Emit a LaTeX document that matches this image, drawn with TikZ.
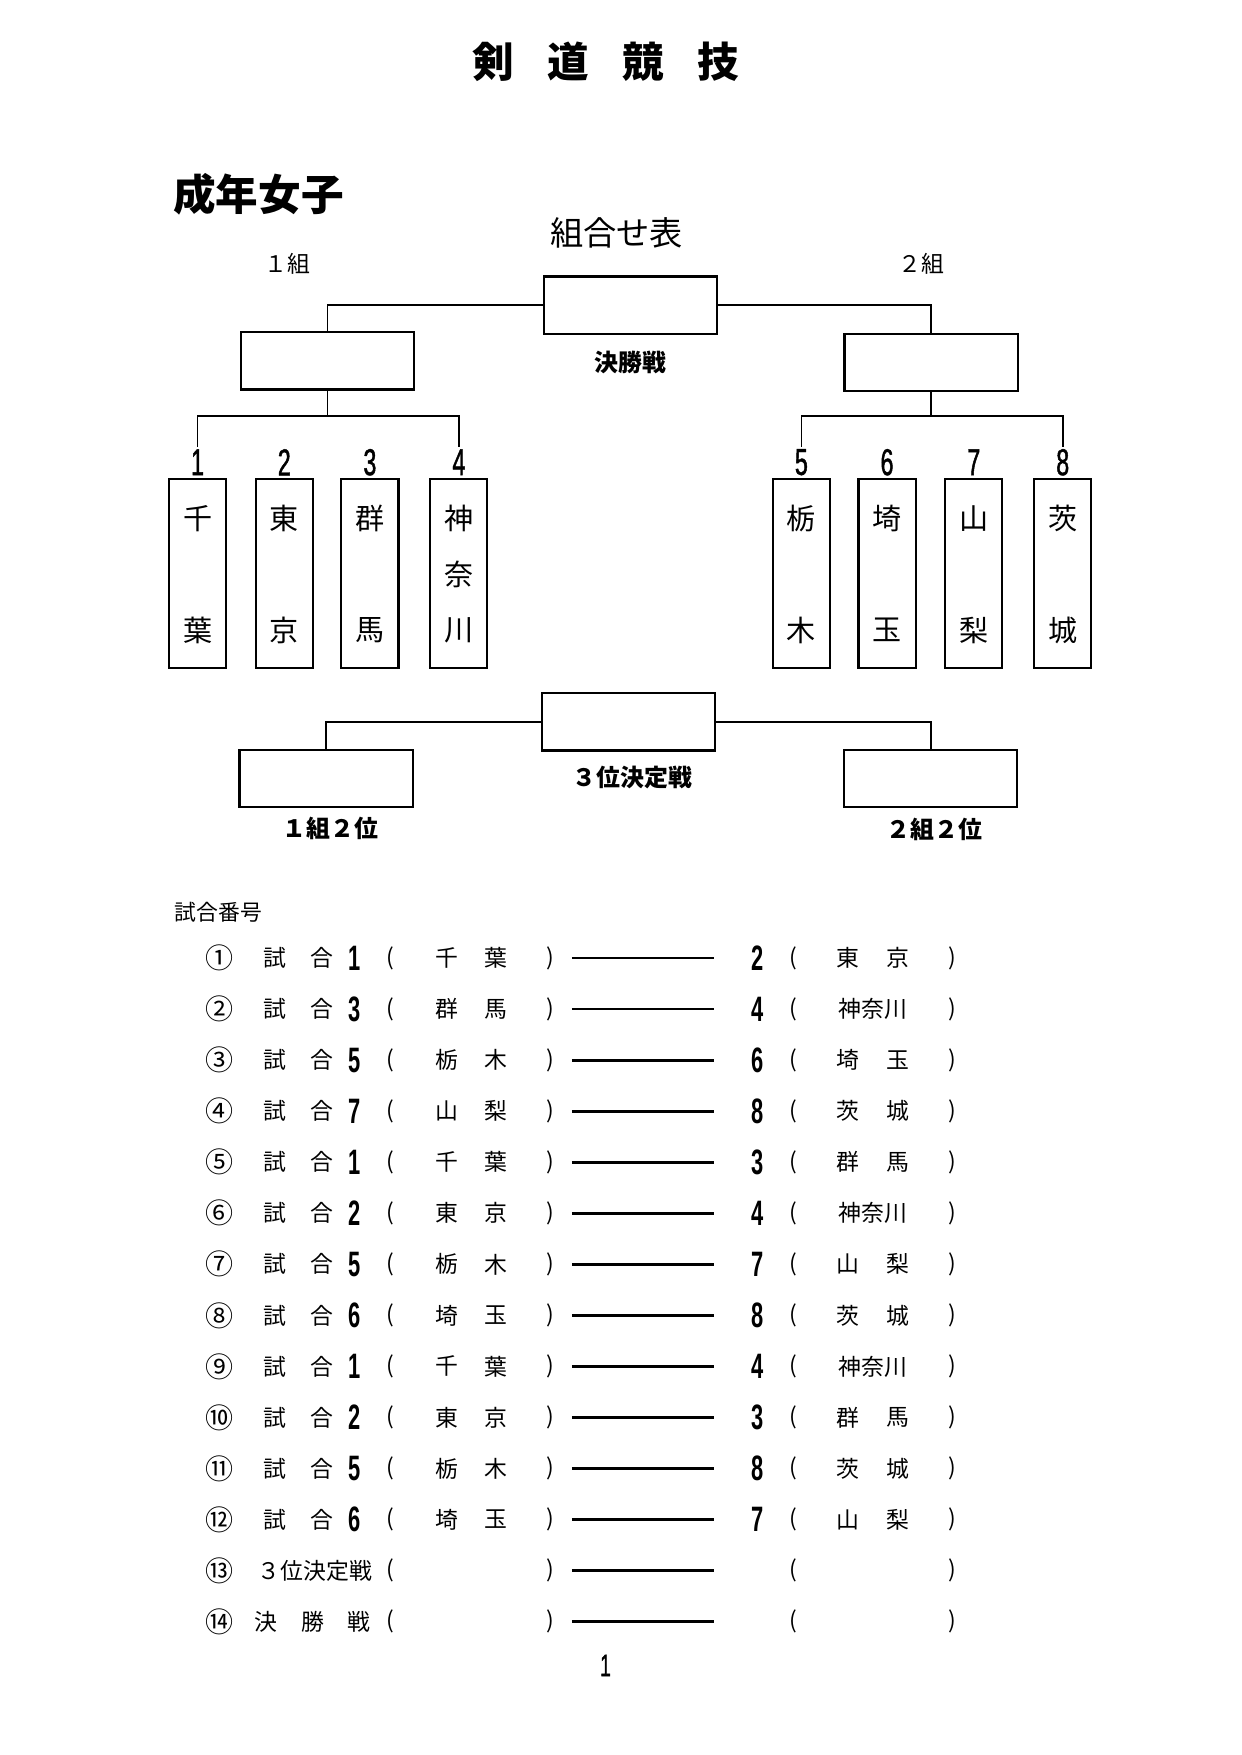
\documentclass[tikz,border=0pt]{standalone}
\usepackage{fontspec}
\setmainfont{Noto Sans CJK JP}
\newfontfamily\narrowfont[FakeStretch=0.62]{Liberation Sans}
\newfontfamily\narrowmed[FakeStretch=0.62,FakeBold=1.2]{Liberation Sans}
\def\u{0.18936mm}
\tikzset{
  bx/.style={draw, line width=1pt, minimum width=155*\u, minimum height=51*\u, inner sep=0pt},
  pbox/.style={draw, line width=1pt, minimum width=51*\u, minimum height=169*\u, inner sep=0pt},
  br/.style={line width=0.8pt},
  rl/.style={line width=1.3pt},
  pch/.style={font=\fontsize{14}{14}\selectfont, inner sep=0pt},
  bnum/.style={font=\narrowmed\fontsize{18}{18}\selectfont, inner sep=1pt},
  blab/.style={font=\bfseries\fontsize{11.5}{11.5}\selectfont, inner sep=0pt},
  glab/.style={font=\fontsize{11}{11}\selectfont, inner sep=0pt},
  rt/.style={font=\fontsize{11}{11}\selectfont, inner sep=0pt},
  rc/.style={font=\fontsize{13.5}{13.5}\selectfont, inner sep=0pt},
  dg/.style={font=\narrowfont\bfseries\fontsize{17}{17}\selectfont, inner sep=0pt},
  ttl/.style={font=\bfseries\fontsize{20}{20}\selectfont, inner sep=0pt},
}
% row: #1 id, #2 y, #3 circled, #4 left digit, #5 #6 left chars, #7 right digit
\newcommand\mrow[7]{%
  \node[rc] (#1c) at (196,#2) {#3};
  \node[rt] (#1s) at (246,#2) {試};
  \node[rt] (#1g) at (288,#2) {合};
  \node[dg] (#1d) at (317,#2) {#4};
  \node[rt] (#1o) at (349,#2) {(};
  \node[rt] (#1a) at (399,#2) {#5};
  \node[rt] (#1b) at (443,#2) {#6};
  \node[rt] (#1e) at (492,#2) {)};
  \coordinate (#1l) at (511,#2);
  \coordinate (#1r) at (638,#2);
  \draw[rl] (#1l) -- (#1r);
  \node[dg] (#1D) at (677,#2) {#7};
  \node[rt] (#1O) at (709,#2) {(};
  \node[rt] (#1E) at (851,#2) {)};
}
\newcommand\rname[4]{%
  \node[rt] (#1A) at (758,#2) {#3};
  \node[rt] (#1B) at (802,#2) {#4};
}
\newcommand\rlong[2]{%
  \node[rt] (#1A) at (780,#2) {神奈川};
}
\newcommand\pref[5]{% #1 id, #2 x, #3 top char, #4 bottom char, #5 number
  \node[pbox] (#1) at (#2,512.5) {};
  \node[pch] (#1t) at (#2,463) {#3};
  \node[pch] (#1b) at (#2,563) {#4};
  \node[bnum] (n#5) at (#2,413) {#5};
}
\begin{document}
\begin{tikzpicture}[x=\u, y=-\u]
\useasboundingbox (0,0) rectangle (1109,1568);

% titles
\node[ttl] (t1) at (441,55) {剣};
\node[ttl] (t2) at (508,55) {道};
\node[ttl] (t3) at (575,55) {競};
\node[ttl] (t4) at (642,55) {技};
\node[font=\bfseries\fontsize{20.5}{20.5}\selectfont, inner sep=0pt] (sub) at (231,174) {成年女子};
\node[font=\fontsize{16}{16}\selectfont, inner sep=0pt] (kumi) at (551,208) {組合せ表};
\node[glab] (g1) at (257,236) {１組};
\node[glab] (g2) at (823,236) {２組};

% final bracket
\node[bx] (final) at (563.5,272.5) {};
\node[bx] (w1) at (292.5,322.5) {};
\node[bx] (w2) at (832,323.5) {};
\node[blab] (kl) at (563,324) {決勝戦};

\pref{p1}{176.5}{千}{葉}{1}
\pref{p2}{254}{東}{京}{2}
\pref{p3}{330.5}{群}{馬}{3}
\node[pbox] (p4) at (410,512.5) {};
\node[pch] (p4t) at (410,463) {神};
\node[pch] (p4m) at (410,513) {奈};
\node[pch] (p4b) at (410,563) {川};
\node[bnum] (n4) at (410,413) {4};
\pref{p5}{716}{栃}{木}{5}
\pref{p6}{792.5}{埼}{玉}{6}
\pref{p7}{870}{山}{梨}{7}
\pref{p8}{949.5}{茨}{城}{8}

\draw[br] (final.west) -| (w1.north);
\draw[br] (final.east) -| (w2.north);
\draw[br] (w1.south) -- ++(0,23) coordinate (j1);
\draw[br] (w2.south) -- ++(0,22) coordinate (j2);
\draw[br] (n1.north) |- (j1) -| (n4.north);
\draw[br] (n5.north) |- (j2) -| (n8.north);

% third place
\node[bx] (t0) at (561.5,645) {};
\node[bx] (tl) at (291.5,695.5) {};
\node[bx] (tr) at (831.5,695.5) {};
\draw[br] (t0.west) -| (tl.north);
\draw[br] (t0.east) -| (tr.north);
\node[blab] (sl) at (565,695) {３位決定戦};
\node[blab] (l1) at (295,740) {１組２位};
\node[blab] (l2) at (835,741) {２組２位};

% match list
\node[font=\fontsize{10.5}{10.5}\selectfont, inner sep=0pt] (bango) at (195,815) {試合番号};

\mrow{ra}{856}{①}{1}{千}{葉}{2}      \rname{ra}{856}{東}{京}
\mrow{rb}{901.6}{②}{3}{群}{馬}{4}    \rlong{rb}{901.6}
\mrow{rc}{947.2}{③}{5}{栃}{木}{6}    \rname{rc}{947.2}{埼}{玉}
\mrow{rd}{992.8}{④}{7}{山}{梨}{8}    \rname{rd}{992.8}{茨}{城}
\mrow{re}{1038.4}{⑤}{1}{千}{葉}{3}   \rname{re}{1038.4}{群}{馬}
\mrow{rf}{1084}{⑥}{2}{東}{京}{4}     \rlong{rf}{1084}
\mrow{rg}{1129.6}{⑦}{5}{栃}{木}{7}   \rname{rg}{1129.6}{山}{梨}
\mrow{rh}{1175.2}{⑧}{6}{埼}{玉}{8}   \rname{rh}{1175.2}{茨}{城}
\mrow{ri}{1220.8}{⑨}{1}{千}{葉}{4}   \rlong{ri}{1220.8}
\mrow{rj}{1266.4}{⑩}{2}{東}{京}{3}   \rname{rj}{1266.4}{群}{馬}
\mrow{rk}{1312}{⑪}{5}{栃}{木}{8}     \rname{rk}{1312}{茨}{城}
\mrow{rm}{1357.6}{⑫}{6}{埼}{玉}{7}   \rname{rm}{1357.6}{山}{梨}

% row 13
\node[rc] (rnc) at (196,1403.2) {⑬};
\node[rt, anchor=west] (rns) at (230,1403.2) {３位決定戦};
\node[rt] (rno) at (349,1403.2) {(};
\node[rt] (rne) at (492,1403.2) {)};
\coordinate (rnl) at (511,1403.2);
\coordinate (rnr) at (638,1403.2);
\draw[rl] (rnl) -- (rnr);
\node[rt] (rnO) at (709,1403.2) {(};
\node[rt] (rnE) at (851,1403.2) {)};

% row 14
\node[rc] (rpc) at (196,1448.8) {⑭};
\node[rt] (rp1) at (238,1448.8) {決};
\node[rt] (rp2) at (280,1448.8) {勝};
\node[rt] (rp3) at (321,1448.8) {戦};
\node[rt] (rpo) at (349,1448.8) {(};
\node[rt] (rpe) at (492,1448.8) {)};
\coordinate (rpl) at (511,1448.8);
\coordinate (rpr) at (638,1448.8);
\draw[rl] (rpl) -- (rpr);
\node[rt] (rpO) at (709,1448.8) {(};
\node[rt] (rpE) at (851,1448.8) {)};

\node[font=\narrowmed\fontsize{15}{15}\selectfont, inner sep=0pt] (pg) at (541,1488) {1};
\end{tikzpicture}
\end{document}
